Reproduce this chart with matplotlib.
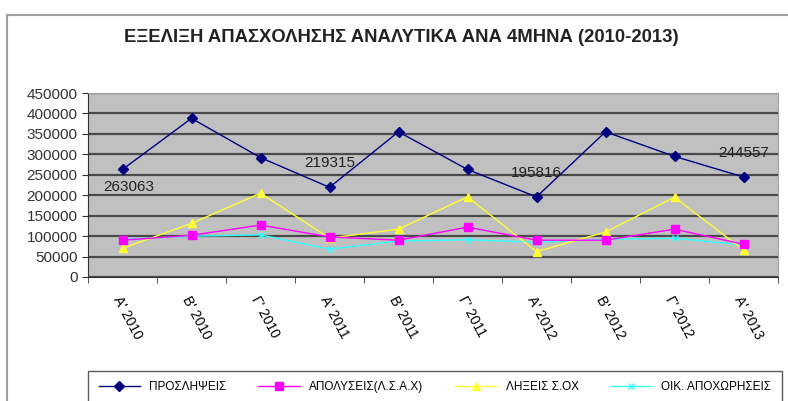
import numpy as np
import matplotlib
matplotlib.use('Agg')
import matplotlib.pyplot as plt
from matplotlib.lines import Line2D

plt.rcParams['font.family'] = ['Liberation Sans', 'DejaVu Sans']

# δεδομένα
periods = ["Α' 2010", "Β' 2010", "Γ' 2010", "Α' 2011", "Β' 2011",
           "Γ' 2011", "Α' 2012", "Β' 2012", "Γ' 2012", "Α' 2013"]
proslipseis = [263063, 388000, 292000, 219315, 355000,
               263000, 195816, 355000, 295000, 244557]
apolyseis = [90000, 102000, 127000, 98000, 90000,
             122000, 90000, 90000, 117000, 80000]
lixeis = [70000, 131000, 205000, 95000, 117000,
          196000, 62000, 110000, 195000, 66000]
apoxoriseis = [92000, 100000, 103000, 68000, 88000,
               91000, 85000, 92000, 95000, 78000]
labelled = [0, 3, 6, 9]

fig = plt.figure(figsize=(7.88, 4.01), dpi=100)
ax = fig.add_axes([88 / 788, 1 - 277 / 401, 690 / 788, 184 / 401])
ax.set_facecolor('#C0C0C0')

x = np.arange(len(periods))
ax.plot(x, proslipseis, color='#000080', marker='D', ms=5.5, lw=1, label='ΠΡΟΣΛΗΨΕΙΣ', zorder=5)
ax.plot(x, apolyseis, color='#FF00FF', marker='s', ms=5.5, lw=1, label='ΑΠΟΛΥΣΕΙΣ(Λ.Σ.Α.Χ)', zorder=4)
ax.plot(x, lixeis, color='#FFFF33', marker='^', ms=6, lw=1, label='ΛΗΞΕΙΣ Σ.ΟΧ', zorder=3)
ax.plot(x, apoxoriseis, color='#33FFFF', marker='x', ms=5, lw=1, label='ΟΙΚ. ΑΠΟΧΩΡΗΣΕΙΣ', zorder=2)

# ετικέτες τιμών
for i in labelled:
    dy = -18 if i == 0 else 24
    dx = 6 if i == 0 else 0
    ax.annotate(str(proslipseis[i]), (x[i], proslipseis[i]), xytext=(dx, dy),
                textcoords='offset pixels', ha='center', va='center',
                fontsize=11, color='#222222', zorder=6)

ax.set_xlim(-0.5, len(periods) - 0.5)
ax.set_ylim(0, 450000)
ax.set_yticks(np.arange(0, 450001, 50000))
ax.yaxis.grid(True, color='#4a4a4a', lw=1.6)
ax.set_axisbelow(True)
ax.tick_params(axis='y', labelsize=11, length=4, colors='#333333')

ax.set_xticks(x)
ax.set_xticklabels(periods, rotation=-62, ha='left', va='top', rotation_mode='anchor', fontsize=10)
ax.set_xticks(np.arange(-0.5, len(periods), 1), minor=True)
ax.tick_params(axis='x', which='major', length=0, pad=12)
ax.tick_params(axis='x', which='minor', length=4, color='#333333')

for s in ['top', 'right']:
    ax.spines[s].set_color('#A0A0A0')
for s in ['left', 'bottom']:
    ax.spines[s].set_color('#333333')

fig.text(401 / 788, 1 - 38 / 401, 'ΕΞΕΛΙΞΗ ΑΠΑΣΧΟΛΗΣΗΣ ΑΝΑΛΥΤΙΚΑ ΑΝΑ 4ΜΗΝΑ (2010-2013)',
         ha='center', va='center', fontsize=13.3, fontweight='bold', color='#222222')

leg = fig.legend(loc='lower left', bbox_to_anchor=(88 / 788, -3 / 401, 694 / 788, 30 / 401),
                 mode='expand', ncol=4, fontsize=8.5, frameon=True, fancybox=False,
                 edgecolor='#333333', handlelength=3.5, borderaxespad=0, borderpad=0.9)
leg.get_frame().set_linewidth(1)

# πλαίσιο
fig.add_artist(Line2D([7 / 788, 1], [1 - 15 / 401, 1 - 15 / 401], color='#A0A0A0', lw=1.5))
fig.add_artist(Line2D([7 / 788, 7 / 788], [0, 1 - 15 / 401], color='#A0A0A0', lw=1.5))

fig.savefig('out.png', dpi=100)
